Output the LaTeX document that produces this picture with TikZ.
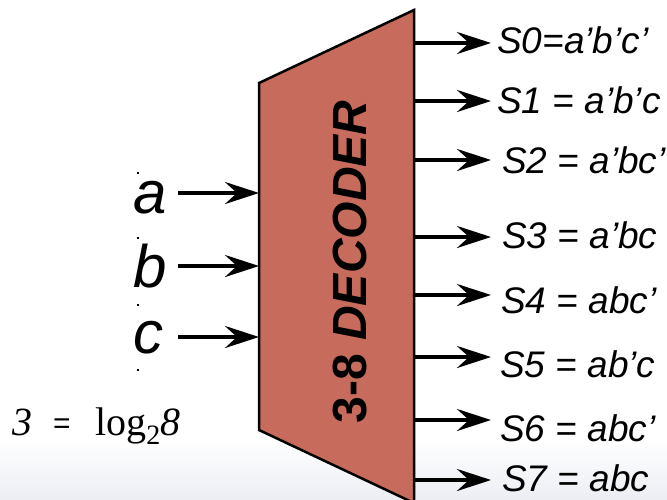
\documentclass[tikz,border=0pt]{standalone}
\usepackage{fontspec}
\setmainfont{Liberation Serif}
\setsansfont{Liberation Sans}
\usetikzlibrary{arrows.meta}
\definecolor{decfill}{HTML}{C76B5C}
\definecolor{bandgray}{HTML}{ECEEF4}
\tikzset{
  sig/.style={line width=4pt,-{Stealth[length=34pt,width=22pt,inset=12pt]}},
  outlabel/.style={anchor=base west,inner sep=0pt,font=\sffamily\itshape\fontsize{37}{37}\selectfont},
  inlabel/.style={anchor=base west,inner sep=0pt,font=\sffamily\itshape\fontsize{60}{60}\selectfont},
  speck/.style={fill=black,minimum size=1.6pt,inner sep=0pt,draw=none},
}
\begin{document}
\begin{tikzpicture}[x=1pt,y=-1pt]
\useasboundingbox (0,0) rectangle (667,499);
\clip (0,0) rectangle (667,499);
\shade[top color=white,bottom color=bandgray] (0,440) rectangle (667,499);
% decoder body
\draw[line width=2.5pt,fill=decfill,line join=miter] (259,83) -- (414,10) -- (414,503) -- (259,430) -- cycle;
\node[rotate=90,inner sep=0pt,font=\sffamily\bfseries\fontsize{48}{48}\selectfont] (dec) at (350,262) {3-8 \textit{DECODER}};
% input side coordinates
\coordinate (ina) at (259,193);
\coordinate (inb) at (259,266);
\coordinate (inc) at (259,337);
\node[inlabel] (a) at (133,213) {a};
\node[inlabel] (b) at (133,287) {b};
\node[inlabel] (c) at (133,353) {c};
\coordinate (sa) at (178,193);
\coordinate (sb) at (178,266);
\coordinate (sc) at (178,337);
\draw[sig] (sa) -- (ina);
\draw[sig] (sb) -- (inb);
\draw[sig] (sc) -- (inc);
% specks
\node[speck] (d1) at (138,173) {};
\node[speck] (d2) at (138,238) {};
\node[speck] (d3) at (138,305) {};
\node[speck] (d4) at (138,370) {};
% outputs
\foreach \i/\y/\by/\lx/\txt in {
  0/43/53/497/{S0=a’b’c’},
  1/101/113/497/{S1 = a’b’c},
  2/160/173/502/{S2 = a’bc’},
  3/237/248/502/{S3 = a’bc},
  4/295/313/501/{S4 = abc’},
  5/357/377/500/{S5 = ab’c},
  6/420/441/500/{S6 = abc’},
  7/480/491/502/{S7 = abc}} {
  \coordinate (o\i) at (414,\y);
  \coordinate (t\i) at (491,\y);
  \draw[sig] (o\i) -- (t\i);
  \node[outlabel] (s\i) at (\lx,\by) {\txt};
}
% formula
\node[anchor=base west,inner sep=0pt,font=\fontsize{40}{40}\selectfont\itshape] (three) at (12,435) {3};
\node[anchor=base,inner sep=0pt,font=\sffamily\fontsize{30}{30}\selectfont] (eq) at (62,433) {=};
\node[anchor=base west,inner sep=0pt,font=\fontsize{40}{40}\selectfont] (log) at (95,435) {log\textsubscript{2}\textit{8}};
\end{tikzpicture}
\end{document}
